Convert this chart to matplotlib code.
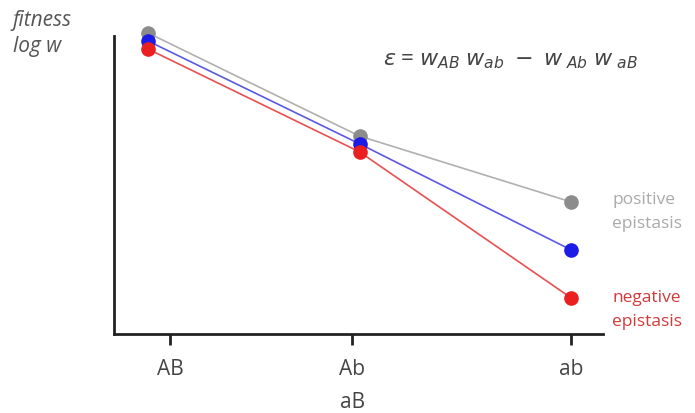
import matplotlib.pyplot as plt

plt.rcParams['font.family'] = ['Open Sans', 'DejaVu Sans']
plt.rcParams['mathtext.fontset'] = 'dejavusans'

# genotype positions and log fitness for the three cases
genotypes = [0, 1, 2]
positive = [1.01, 0.664, 0.443]
neutral = [0.983, 0.638, 0.282]
negative = [0.956, 0.611, 0.121]

tick_pos = [0.104, 0.965, 2.0]
tick_labels = ['AB', 'Ab\naB', 'ab']

fig = plt.figure(figsize=(6.95, 4.14), dpi=100)
ax = fig.add_axes([0.164, 0.191, 0.7036, 0.7198])

ax.plot(genotypes, positive, '-o', color='#b0b0b0', mfc='#8c8c8c', mec='#8c8c8c',
        lw=1.2, ms=9.5, clip_on=False, zorder=3)
ax.plot(genotypes, neutral, '-o', color='#5a5ae0', mfc='#1c1ce6', mec='#1c1ce6',
        lw=1.2, ms=9.5, clip_on=False, zorder=4)
ax.plot(genotypes, negative, '-o', color='#e85050', mfc='#ea2020', mec='#ea2020',
        lw=1.2, ms=9.5, clip_on=False, zorder=5)

ax.set_xlim(-0.161, 2.151)
ax.set_ylim(0, 1)
ax.spines['top'].set_visible(False)
ax.spines['right'].set_visible(False)
for s in ['left', 'bottom']:
    ax.spines[s].set_linewidth(2)
    ax.spines[s].set_color('#222222')

ax.set_yticks([])
ax.set_xticks(tick_pos)
ax.set_xticklabels(tick_labels, fontsize=15, color='#444444', linespacing=1.75,
                   va='top')
ax.tick_params(axis='x', length=8, width=2, color='#222222', pad=9)

fig.text(0.018, 0.975, 'fitness\nlog w', fontsize=15, style='italic',
         color='#555555', va='top', ha='left', linespacing=1.3)

fig.text(0.551, 0.855,
         r'$\mathit{\varepsilon}$ = $\mathit{w}_{AB}\;\mathit{w}_{ab}\;-\;\mathit{w}_{\ Ab}\;\mathit{w}_{\ aB}$',
         fontsize=16, color='#444444', ha='left', va='center')

ax.text(2.195, positive[-1] - 0.03, 'positive\nepistasis', fontsize=12.5,
        color='#aaaaaa', ha='left', va='center', linespacing=1.65, clip_on=False)
ax.text(2.195, negative[-1] - 0.037, 'negative\nepistasis', fontsize=12.5,
        color='#d23a3a', ha='left', va='center', linespacing=1.65, clip_on=False)

fig.savefig('out.png', dpi=100)
